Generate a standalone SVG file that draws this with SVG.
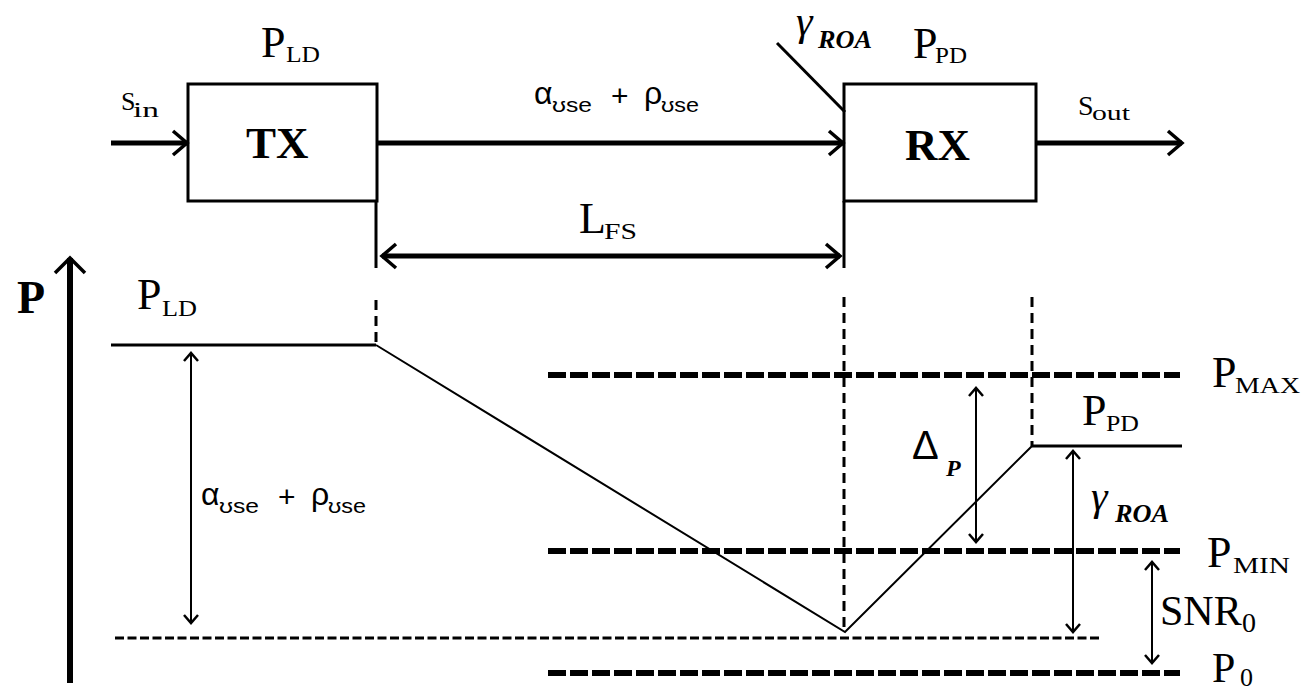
<svg xmlns="http://www.w3.org/2000/svg" width="1303" height="691" viewBox="0 0 1303 691">
<style>
.bg{fill:#fff}
.box{fill:#fff;stroke:#000;stroke-width:3}
.thick{stroke:#000;stroke-width:5;fill:none}
.thin{stroke:#000;stroke-width:2;fill:none}
.solid3{stroke:#000;stroke-width:3;fill:none}
.vdash{stroke:#000;stroke-width:3;stroke-dasharray:10 6;fill:none}
.hdash{stroke:#000;stroke-width:6;stroke-dasharray:18 4;fill:none}
.ldash{stroke:#000;stroke-width:3;stroke-dasharray:9 3.5;fill:none}
.sf{font-family:"Liberation Serif","Times New Roman",serif;fill:#000}
.ss{font-family:"Liberation Sans","DejaVu Sans",sans-serif;fill:#000}
.big{font-size:44px}
.sub{font-size:23px}
.bold{font-weight:bold}
.it{font-style:italic}
</style>
<defs>
<marker id="ahThick" markerUnits="userSpaceOnUse" markerWidth="40" markerHeight="40" viewBox="-20 -20 40 40" refX="0" refY="0" orient="auto-start-reverse">
<path d="M-14,-12 L0,0 L-14,12" fill="none" stroke="#000" stroke-width="3.5"/>
</marker>
<marker id="ahAxis" markerUnits="userSpaceOnUse" markerWidth="40" markerHeight="40" viewBox="-20 -20 40 40" refX="0" refY="0" orient="auto">
<path d="M-15,-15 L0,0 L-15,15" fill="none" stroke="#000" stroke-width="3.5"/>
</marker>
<marker id="ahThin" markerUnits="userSpaceOnUse" markerWidth="20" markerHeight="20" viewBox="-10 -10 20 20" refX="0" refY="0" orient="auto-start-reverse">
<path d="M-8,-7 L0,0 L-8,7" fill="none" stroke="#000" stroke-width="2.5"/>
</marker>
</defs>
<rect class="bg" x="0" y="0" width="1303" height="691"/>

<g id="tx">
<rect class="box" x="188" y="84" width="189" height="117"/>
<text class="sf bold" x="246" y="158" font-size="45">TX</text>
<text class="sf big" x="261" y="57">P<tspan class="sub" x="286" y="62" textLength="34" lengthAdjust="spacingAndGlyphs">LD</tspan></text>
</g>

<g id="rx">
<rect class="box" x="844" y="84" width="192" height="117"/>
<text class="sf bold" x="905" y="160" font-size="45">RX</text>
<text class="sf big" x="913" y="58">P<tspan class="sub" x="935" y="63" textLength="32" lengthAdjust="spacingAndGlyphs">PD</tspan></text>
</g>

<g id="labels-top">
<text class="sf" x="121" y="110" font-size="26">S<tspan x="133" y="117" font-size="20" textLength="26" lengthAdjust="spacingAndGlyphs">in</tspan></text>
<text class="sf" x="1078" y="115" font-size="28">S<tspan x="1092" y="120" font-size="20" textLength="38" lengthAdjust="spacingAndGlyphs">out</tspan></text>
<text class="sf it" x="796" y="35" font-size="42">γ<tspan class="bold" x="818" y="48" font-size="26" textLength="54" lengthAdjust="spacingAndGlyphs">ROA</tspan></text>
<text class="ss" x="534" y="104" font-size="32">α<tspan x="552" y="112" font-size="20" textLength="40" lengthAdjust="spacingAndGlyphs">ʊse</tspan><tspan x="611" y="106" font-size="30">+</tspan><tspan x="644" y="104" font-size="32">ρ</tspan><tspan x="661" y="112" font-size="20" textLength="38" lengthAdjust="spacingAndGlyphs">ʊse</tspan></text>
<text class="sf big" x="579" y="233">L<tspan class="sub" x="604" y="239" textLength="33" lengthAdjust="spacingAndGlyphs">FS</tspan></text>
</g>

<g id="connectors">
<line class="thick" x1="111" y1="143" x2="187" y2="143" marker-end="url(#ahThick)"/>
<line class="thick" x1="377" y1="143" x2="843" y2="143" marker-end="url(#ahThick)"/>
<line class="thick" x1="1036" y1="143" x2="1182" y2="143" marker-end="url(#ahThick)"/>
<line class="solid3" x1="777" y1="43" x2="845" y2="112"/>
<line class="thick" x1="382" y1="256" x2="840" y2="256" marker-start="url(#ahThick)" marker-end="url(#ahThick)"/>
<line class="solid3" x1="376" y1="201" x2="376" y2="268"/>
<line class="solid3" x1="844" y1="201" x2="844" y2="268"/>
</g>

<g id="axis">
<line stroke="#000" stroke-width="6" x1="70" y1="683" x2="70" y2="258" marker-end="url(#ahAxis)"/>
<text class="sf bold" x="17" y="313" font-size="46">P</text>
</g>

<g id="plot">
<line class="vdash" x1="376" y1="300" x2="376" y2="345" stroke-dasharray="9 6"/>
<line class="vdash" x1="844" y1="297" x2="844" y2="632"/>
<line class="vdash" x1="1032" y1="297" x2="1032" y2="446"/>
<line class="solid3" x1="111" y1="345" x2="376" y2="345"/>
<polyline class="thin" points="376,345 845,632 1032,446"/>
<line class="solid3" x1="1032" y1="446" x2="1182" y2="446"/>
<line class="hdash" x1="548" y1="375" x2="1180" y2="375"/>
<line class="hdash" x1="548" y1="551" x2="1180" y2="551"/>
<line class="hdash" x1="548" y1="673" x2="1180" y2="673"/>
<line class="ldash" x1="115" y1="638" x2="1102" y2="638"/>
<line class="thin" x1="191" y1="353" x2="191" y2="623" marker-start="url(#ahThin)" marker-end="url(#ahThin)"/>
<line class="thin" x1="976" y1="388" x2="976" y2="542" marker-start="url(#ahThin)" marker-end="url(#ahThin)"/>
<line class="thin" x1="1073" y1="451" x2="1073" y2="632" marker-start="url(#ahThin)" marker-end="url(#ahThin)"/>
<line class="thin" x1="1152" y1="562" x2="1152" y2="663" marker-start="url(#ahThin)" marker-end="url(#ahThin)"/>
</g>

<g id="labels-plot">
<text class="sf big" x="137" y="309">P<tspan class="sub" x="162" y="316" textLength="35" lengthAdjust="spacingAndGlyphs">LD</tspan></text>
<text class="ss" x="201" y="505" font-size="32">α<tspan x="219" y="513" font-size="20" textLength="40" lengthAdjust="spacingAndGlyphs">ʊse</tspan><tspan x="278" y="507" font-size="30">+</tspan><tspan x="311" y="505" font-size="32">ρ</tspan><tspan x="328" y="513" font-size="20" textLength="38" lengthAdjust="spacingAndGlyphs">ʊse</tspan></text>
<text class="sf big" x="1212" y="387">P<tspan class="sub" x="1235" y="393" textLength="65" lengthAdjust="spacingAndGlyphs">MAX</tspan></text>
<text class="sf big" x="1082" y="425">P<tspan class="sub" x="1106" y="431" textLength="33" lengthAdjust="spacingAndGlyphs">PD</tspan></text>
<text class="sf big" x="1207" y="567">P<tspan class="sub" x="1233" y="573" textLength="57" lengthAdjust="spacingAndGlyphs">MIN</tspan></text>
<text class="sf" x="1160" y="625" font-size="42">SNR<tspan x="1242" y="632" font-size="28">0</tspan></text>
<text class="sf" x="1212" y="682" font-size="42">P<tspan x="1240" y="686" font-size="26">0</tspan></text>
<text class="ss" x="912" y="459" font-size="40">Δ<tspan class="sf bold it" x="946" y="476" font-size="24">P</tspan></text>
<text class="sf it" x="1091" y="510" font-size="42">γ<tspan class="bold" x="1115" y="522" font-size="26" textLength="54" lengthAdjust="spacingAndGlyphs">ROA</tspan></text>
</g>
</svg>
